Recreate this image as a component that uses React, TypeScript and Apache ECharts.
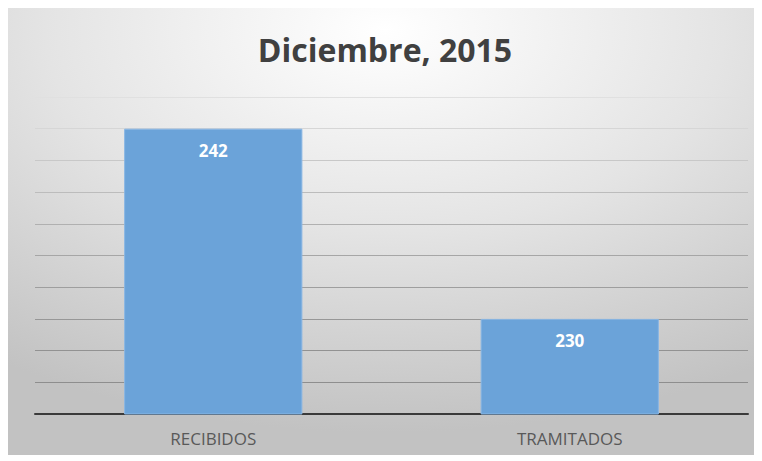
import React, { useEffect, useRef } from "react";
import * as echarts from "echarts";

const categories = ["RECIBIDOS", "TRAMITADOS"];
const values = [242, 230];
const titleText = "Diciembre, 2015";

export default function App() {
  const ref = useRef<HTMLDivElement>(null);
  useEffect(() => {
    if (!ref.current) return;
    const chart = echarts.init(ref.current, null, { renderer: "svg" });
    chart.setOption({
      animation: false,
      backgroundColor: new echarts.graphic.RadialGradient(0.5, 0.05, 0.9, [
        { offset: 0, color: "#ffffff" },
        { offset: 0.5, color: "#e4e4e4" },
        { offset: 1, color: "#c2c2c2" },
      ]),
      title: {
        text: titleText,
        left: "center",
        top: 20,
        textStyle: {
          fontFamily: "Open Sans",
          fontWeight: "bold",
          fontSize: 32,
          color: "#404040",
        },
      },
      grid: { left: 27, right: 14, top: 89, bottom: 41 },
      xAxis: {
        type: "category",
        data: categories,
        axisLine: { lineStyle: { color: "#3a3a3a", width: 2 } },
        axisTick: { show: false },
        axisLabel: {
          color: "#595959",
          fontFamily: "Open Sans",
          fontSize: 17,
          margin: 16,
        },
      },
      yAxis: {
        type: "value",
        min: 224,
        max: 244,
        interval: 2,
        axisLabel: { show: false },
        axisLine: { show: false },
        axisTick: { show: false },
        splitLine: {
          lineStyle: {
            color: [
              "#8e8e8e",
              "#8e8e8e",
              "#929292",
              "#979797",
              "#9e9e9e",
              "#a6a6a6",
              "#b0b0b0",
              "#bcbcbc",
              "#c8c8c8",
              "#d6d6d6",
              "#e0e0e0",
            ],
            width: 1,
          },
        },
      },
      series: [
        {
          type: "bar",
          data: values,
          barWidth: "50%",
          itemStyle: { color: "#6ba3d9", borderColor: "#88b6e4", borderWidth: 1 },
          label: {
            show: true,
            position: "insideTop",
            distance: 13,
            color: "#ffffff",
            fontFamily: "Open Sans",
            fontWeight: "bold",
            fontSize: 17,
          },
        },
      ],
    });
    return () => chart.dispose();
  }, []);
  return <div ref={ref} style={{ width: 754, height: 447 }} />;
}
